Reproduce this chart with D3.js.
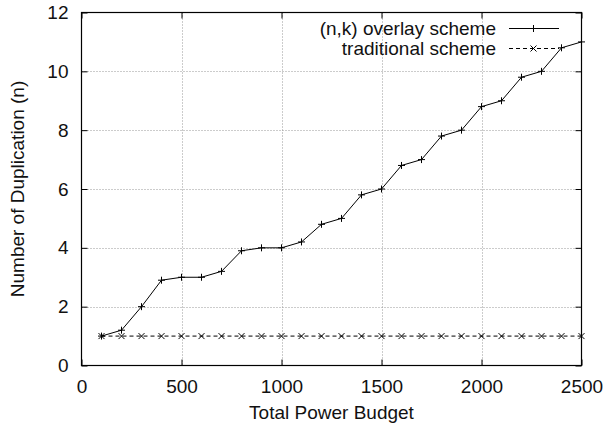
<!DOCTYPE html>
<html>
<head>
<meta charset="utf-8">
<script src="https://cdn.jsdelivr.net/npm/d3@7"></script>
<style>
  html, body { margin: 0; padding: 0; background: #fff; }
  svg { display: block; }
  text { font-family: "Liberation Sans", Arial, Helvetica, sans-serif; fill: #111; }
</style>
</head>
<body>
<svg id="chart" width="614" height="423"></svg>
<script>
// ---- data ----
const budgets = [100, 200, 300, 400, 500, 600, 700, 800, 900, 1000, 1100, 1200, 1300,
                 1400, 1500, 1600, 1700, 1800, 1900, 2000, 2100, 2200, 2300, 2400, 2500];
const overlayValues = [1, 1.2, 2, 2.9, 3, 3, 3.2, 3.9, 4, 4, 4.2, 4.8, 5,
                       5.8, 6, 6.8, 7, 7.8, 8, 8.8, 9, 9.8, 10, 10.8, 11];
const traditionalValues = [1, 1, 1, 1, 1, 1, 1, 1, 1, 1, 1, 1, 1,
                           1, 1, 1, 1, 1, 1, 1, 1, 1, 1, 1, 1];
const xTicks = [0, 500, 1000, 1500, 2000, 2500];
const yTicks = [0, 2, 4, 6, 8, 10, 12];
const seriesNames = ["(n,k) overlay scheme", "traditional scheme"];
const xTitle = "Total Power Budget";
const yTitle = "Number of Duplication (n)";

// ---- layout ----
const svg = d3.select("#chart");
const L = 81.5, R = 581.5, T = 12.5, B = 365.5;
const x = d3.scaleLinear().domain([0, 2500]).range([L, R]);
const y = d3.scaleLinear().domain([0, 12]).range([B, T]);
const fs = 19;
const fmt = d3.format("d");

// grid
const grid = svg.append("g");
grid.selectAll("line.gx").data(xTicks.filter(d => d > 0 && d < 2500)).enter().append("line")
  .attr("x1", d => Math.round(x(d)) + 0.5).attr("x2", d => Math.round(x(d)) + 0.5)
  .attr("y1", T).attr("y2", B)
  .attr("stroke", "#999").attr("stroke-width", 1).attr("stroke-dasharray", "1,2");
grid.selectAll("line.gy").data(yTicks.filter(d => d > 0 && d < 12)).enter().append("line")
  .attr("y1", d => Math.round(y(d)) + 0.5).attr("y2", d => Math.round(y(d)) + 0.5)
  .attr("x1", L).attr("x2", R)
  .attr("stroke", "#999").attr("stroke-width", 1).attr("stroke-dasharray", "1,2");

// axes with inward ticks (mirrored)
const tk = 6;
const axB = d3.axisBottom(x).tickValues(xTicks).tickFormat(fmt).tickSizeInner(-tk).tickSizeOuter(0).tickPadding(14);
const axT = d3.axisTop(x).tickValues(xTicks).tickSizeInner(-tk).tickSizeOuter(0).tickFormat("");
const axLf = d3.axisLeft(y).tickValues(yTicks).tickFormat(fmt).tickSizeInner(-tk).tickSizeOuter(0).tickPadding(13);
const axRt = d3.axisRight(y).tickValues(yTicks).tickSizeInner(-tk).tickSizeOuter(0).tickFormat("");

function styleAxis(g) {
  g.select(".domain").remove();
  g.selectAll(".tick line").attr("stroke", "#000");
  g.selectAll("text").attr("font-size", fs).attr("fill", "#111")
    .attr("font-family", "'Liberation Sans', Arial, sans-serif");
}
svg.append("g").attr("transform", `translate(0,${B})`).call(axB).call(styleAxis)
  .selectAll("text").attr("dy", "0.71em");
svg.append("g").attr("transform", `translate(0,${T})`).call(axT).call(styleAxis);
svg.append("g").attr("transform", `translate(${L},0)`).call(axLf).call(styleAxis);
svg.append("g").attr("transform", `translate(${R},0)`).call(axRt).call(styleAxis);

// border
svg.append("rect").attr("x", L).attr("y", T).attr("width", R - L).attr("height", B - T)
  .attr("fill", "none").attr("stroke", "#000").attr("stroke-width", 1.2);

// series
const ovl = budgets.map((b, i) => [b, overlayValues[i]]);
const trad = budgets.map((b, i) => [b, traditionalValues[i]]);
const line = d3.line().x(d => x(d[0])).y(d => y(d[1]));

svg.append("path").datum(trad).attr("d", line).attr("fill", "none")
  .attr("stroke", "#000").attr("stroke-width", 1).attr("stroke-dasharray", "4,3");
svg.append("path").datum(ovl).attr("d", line).attr("fill", "none")
  .attr("stroke", "#000").attr("stroke-width", 1);

const ps = 3.5, xs = 3;
function plus(g, cx, cy) {
  g.append("path").attr("d", `M${cx - ps},${cy}H${cx + ps}M${cx},${cy - ps}V${cy + ps}`)
    .attr("stroke", "#000").attr("stroke-width", 1).attr("fill", "none");
}
function cross(g, cx, cy) {
  g.append("path").attr("d", `M${cx - xs},${cy - xs}L${cx + xs},${cy + xs}M${cx - xs},${cy + xs}L${cx + xs},${cy - xs}`)
    .attr("stroke", "#000").attr("stroke-width", 1).attr("fill", "none");
}
const mk = svg.append("g");
trad.forEach(d => cross(mk, x(d[0]), y(d[1])));
ovl.forEach(d => plus(mk, x(d[0]), y(d[1])));

// legend
const lg = svg.append("g");
const rows = [28.5, 48.5];
const lx1 = 509, lx2 = 559, lmx = 533.5;
lg.append("text").attr("x", 496).attr("y", rows[0]).attr("dy", "0.35em")
  .attr("text-anchor", "end").attr("font-size", fs).text(seriesNames[0]);
lg.append("line").attr("x1", lx1).attr("x2", lx2).attr("y1", rows[0]).attr("y2", rows[0])
  .attr("stroke", "#000").attr("stroke-width", 1);
plus(lg, lmx, rows[0]);
lg.append("text").attr("x", 496).attr("y", rows[1]).attr("dy", "0.35em")
  .attr("text-anchor", "end").attr("font-size", fs).text(seriesNames[1]);
lg.append("line").attr("x1", lx1).attr("x2", lx2).attr("y1", rows[1]).attr("y2", rows[1])
  .attr("stroke", "#000").attr("stroke-width", 1).attr("stroke-dasharray", "4,3");
cross(lg, lmx, rows[1]);

// titles
svg.append("text").attr("x", (L + R) / 2).attr("y", 419).attr("text-anchor", "middle")
  .attr("font-size", fs).text(xTitle);
svg.append("text").attr("transform", `translate(24,${(T + B) / 2}) rotate(-90)`)
  .attr("text-anchor", "middle").attr("font-size", fs).text(yTitle);
</script>
</body>
</html>
